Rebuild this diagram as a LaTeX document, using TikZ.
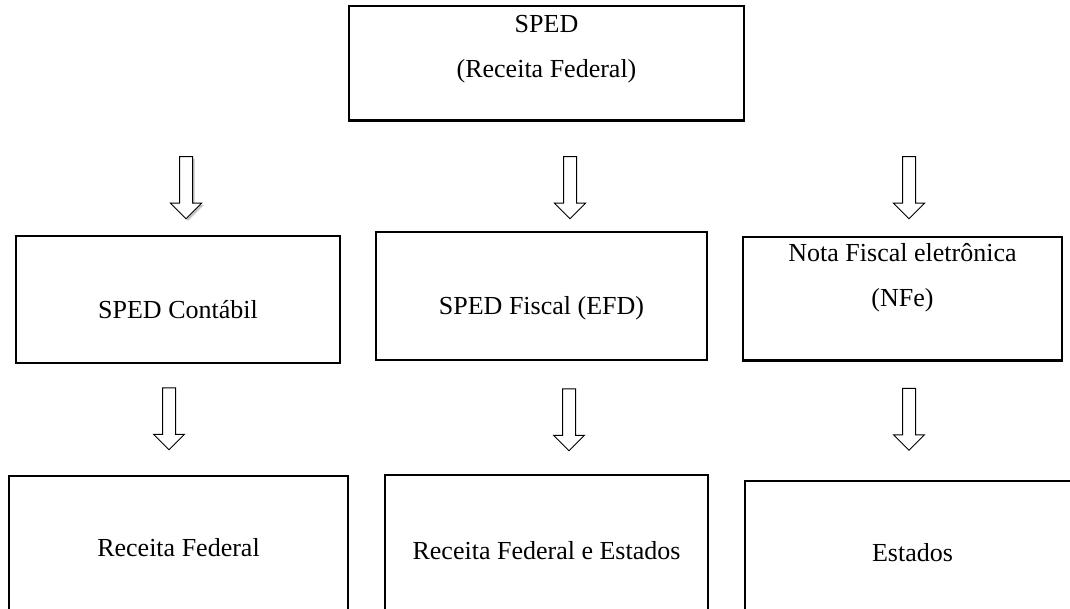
\documentclass[tikz,border=0pt]{standalone}
\usepackage{fontspec}
\setmainfont{Liberation Serif}
\usetikzlibrary{shapes.arrows, shadows}

\begin{document}
\begin{tikzpicture}[
        x = 1pt, y = -1pt, % pixel grid, y goes down
        font = \fontsize{26}{45}\selectfont,
        line width = 2.5pt % box lines
    ]

    \tikzstyle{box}=[draw = black, rectangle, inner sep = 0pt, align = center]
    \tikzstyle{topbox}=[box, anchor = north]
    \tikzstyle{downarrow}=[draw = black, fill = white, single arrow,
    shape border rotate = 270, line width = 1pt, inner sep = 6pt,
    minimum height = 62pt, minimum width = 30pt, single arrow head extend = 9pt]

    \useasboundingbox (0,0) rectangle (1070,609);
    \clip (0,0) rectangle (1070,609);

    % first level
    \node[topbox, minimum width = 395pt, inner sep = 9pt, text depth = 34pt]
    (sped) at (546.5,5) {SPED\\(Receita Federal)};

    % second level
    \node[box, minimum width = 324pt, minimum height = 127pt, text height = 37.5pt,
    text depth = 0pt] (contabil) at (178,299.5) {SPED Contábil};
    \node[box, minimum width = 331pt, minimum height = 128pt, text height = 37.5pt,
    text depth = 0pt] (fiscal) at (541.5,296) {SPED Fiscal (EFD)};
    \node[topbox, minimum width = 319pt, inner sep = 6pt, text depth = 48pt]
    (nfe) at (902.5,236) {Nota Fiscal eletrônica\\(NFe)};

    % third level, cut by the page
    \node[box, minimum width = 339pt, minimum height = 144pt] (receita) at (178.5,548)
    {Receita Federal};
    \node[box, minimum width = 323pt, minimum height = 152pt] (receitaest) at (546.5,551)
    {Receita Federal e Estados};
    \node[box, minimum width = 335pt, minimum height = 144pt] (estados) at (912.5,553)
    {Estados};

    % arrows
    \node[downarrow, drop shadow = {shadow xshift = 2pt, shadow yshift = -2pt,
    fill = gray!90}] (a1) at (186,184.5) {};
    \node[downarrow] (a2) at (570,184.5) {};
    \node[downarrow] (a3) at (909,184.5) {};
    \node[downarrow] (a4) at (169,415.5) {};
    \node[downarrow] (a5) at (569,416.5) {};
    \node[downarrow] (a6) at (909,416) {};

\end{tikzpicture}
\end{document}
